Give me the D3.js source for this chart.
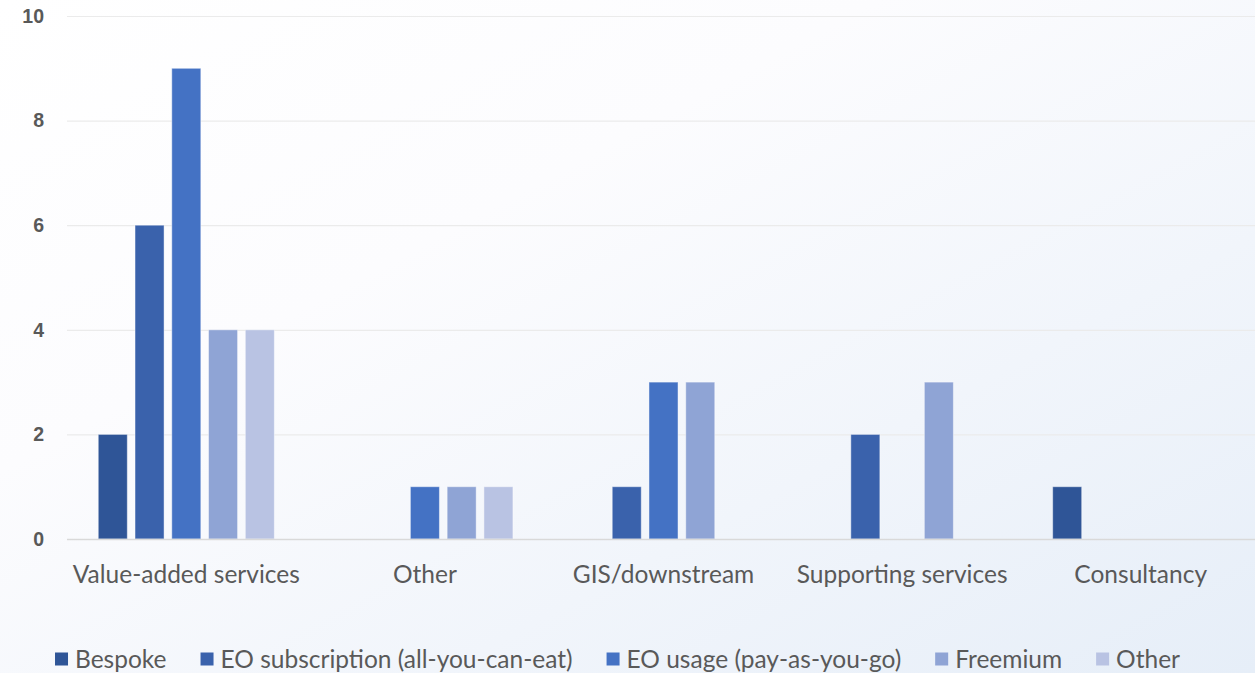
<!DOCTYPE html>
<html>
<head>
<meta charset="utf-8">
<script src="https://cdn.jsdelivr.net/npm/d3@7"></script>
<style>
  html, body { margin: 0; padding: 0; }
  body { width: 1255px; height: 673px; overflow: hidden; }
  svg { display: block; }
</style>
</head>
<body>
<svg id="chart" width="1255" height="673"></svg>
<script>
// Business model counts per service category
const categories = ["Value-added services", "Other", "GIS/downstream", "Supporting services", "Consultancy"];
const seriesNames = ["Bespoke", "EO subscription (all-you-can-eat)", "EO usage (pay-as-you-go)", "Freemium", "Other"];
const bespoke        = [2, 0, 0, 0, 1];
const eoSubscription = [6, 0, 1, 2, 0];
const eoUsage        = [9, 1, 3, 0, 0];
const freemium       = [4, 1, 3, 3, 0];
const otherModel     = [4, 1, 0, 0, 0];
const seriesValues = [bespoke, eoSubscription, eoUsage, freemium, otherModel];
const yTicks = [0, 2, 4, 6, 8, 10];
const colors = ["#2F5597", "#3A62AC", "#4472C4", "#8FA4D5", "#B9C3E3"];

const svg = d3.select("#chart");
const W = 1255, H = 673;
const fontFamily = "Lato, 'Open Sans', sans-serif";
const tickFont = "'Liberation Sans', Arial, sans-serif";

// background gradient
const defs = svg.append("defs");
const grad = defs.append("linearGradient").attr("id", "bg")
  .attr("x1", "0%").attr("y1", "0%").attr("x2", "100%").attr("y2", "100%");
grad.append("stop").attr("offset", "0%").attr("stop-color", "#FFFFFF");
grad.append("stop").attr("offset", "35%").attr("stop-color", "#FCFCFE");
grad.append("stop").attr("offset", "100%").attr("stop-color", "#E6EEF8");
svg.append("rect").attr("width", W).attr("height", H).attr("fill", "url(#bg)");

const plot = { left: 67, right: 1260, top: 16, bottom: 539 };

const y = d3.scaleLinear().domain([0, 10]).range([plot.bottom, plot.top]);
const x0 = d3.scaleBand().domain(categories).range([plot.left, plot.right]).padding(0);
const x1 = d3.scaleBand().domain(d3.range(seriesNames.length))
  .range([-91.9, 91.9]).paddingInner(0.21).paddingOuter(0.105);

// gridlines
svg.append("g").selectAll("line").data(yTicks.filter(d => d > 0)).join("line")
  .attr("x1", plot.left).attr("x2", plot.right)
  .attr("y1", d => y(d) + 0.5).attr("y2", d => y(d) + 0.5)
  .attr("stroke", "#EBEBEB").attr("stroke-width", 1.2);

// y-axis labels
const yAxis = d3.axisLeft(y).tickValues(yTicks).tickSize(0).tickPadding(0);
const gy = svg.append("g").attr("transform", "translate(44,0)").call(yAxis);
gy.select(".domain").remove();
gy.attr("font-size", null).attr("font-family", null);
gy.selectAll("text")
  .attr("fill", "#595959")
  .style("font-family", tickFont)
  .style("font-size", "19.5px")
  .style("font-weight", "700");

// bars
const flat = [];
categories.forEach((c, ci) => {
  seriesValues.forEach((vals, si) => {
    if (vals[ci] > 0) flat.push({ cat: c, s: si, v: vals[ci] });
  });
});
svg.append("g").selectAll("rect").data(flat).join("rect")
  .attr("x", d => x0(d.cat) + x0.bandwidth() / 2 + x1(d.s))
  .attr("width", x1.bandwidth())
  .attr("y", d => y(d.v))
  .attr("height", d => y(0) - y(d.v))
  .attr("fill", d => colors[d.s])
  .attr("stroke", "rgba(255,255,255,0.45)")
  .attr("stroke-width", 1);

// baseline
svg.append("line")
  .attr("x1", plot.left).attr("x2", plot.right)
  .attr("y1", y(0) + 0.5).attr("y2", y(0) + 0.5)
  .attr("stroke", "#D9D9D9").attr("stroke-width", 1.5);

// category labels
const xAxis = d3.axisBottom(x0).tickSize(0).tickPadding(0);
const gx = svg.append("g").attr("transform", `translate(0,${y(0) + 27})`).call(xAxis);
gx.select(".domain").remove();
gx.selectAll("text")
  .attr("fill", "#595959").attr("font-family", fontFamily)
  .attr("font-size", 24.5);

// legend
const legend = svg.append("g").attr("transform", "translate(0,659)");
const items = legend.selectAll("g").data(seriesNames).join("g");
items.append("rect")
  .attr("width", 13).attr("height", 13).attr("y", -6.5)
  .attr("fill", (d, i) => colors[i]);
items.append("text")
  .attr("x", 20).attr("dy", "0.36em")
  .attr("fill", "#595959").attr("font-family", fontFamily)
  .attr("font-size", 24.5)
  .text(d => d);
const gap = 34;
let widths = [];
items.each(function () { widths.push(20 + this.querySelector("text").getComputedTextLength()); });
const total = d3.sum(widths) + gap * (widths.length - 1);
let cx = 617.5 - total / 2;
items.attr("transform", (d, i) => {
  const t = `translate(${cx},0)`;
  cx += widths[i] + gap;
  return t;
});
</script>
</body>
</html>
